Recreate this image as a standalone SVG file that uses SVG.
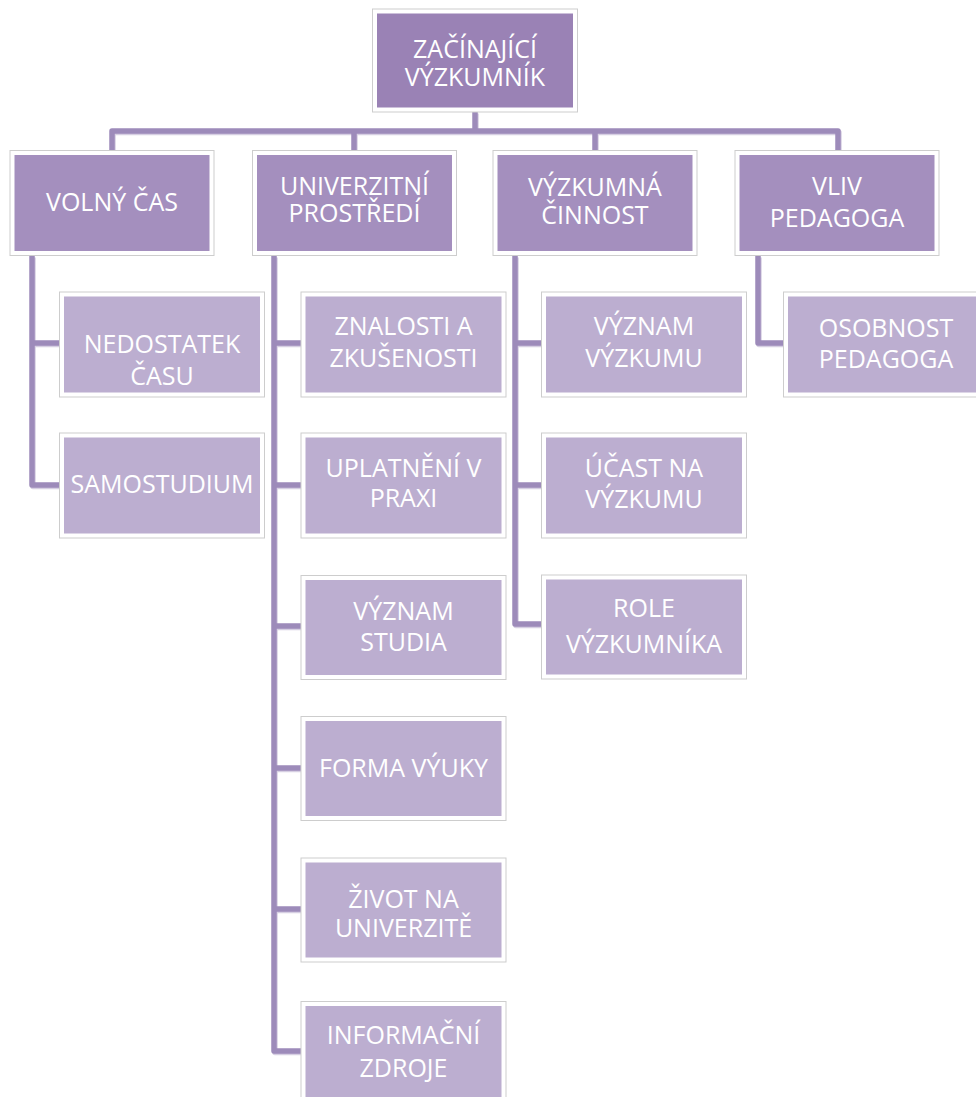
<svg xmlns="http://www.w3.org/2000/svg" width="976" height="1097" viewBox="0 0 976 1097">
<style>
.frame{fill:#ffffff;stroke:#cdcdcd;stroke-width:1}
.root{fill:#9a82b5}
.l2{fill:#a48fbe}
.ch{fill:#bcaed0}
.t{font-family:"Open Sans","Noto Sans","Liberation Sans",sans-serif;font-size:25px;fill:#ffffff;text-anchor:middle}
.con{fill:none;stroke:#9d8bba;stroke-width:5.5;stroke-linejoin:round;stroke-linecap:butt}
.conS{fill:none;stroke:#d6cfe2;stroke-width:5.5;stroke-linejoin:round}
</style>
<rect width="976" height="1097" fill="#ffffff"/>
<g id="connectors">
  <g transform="translate(1,1.5)">
    <path class="conS" d="M475,112 V131"/>
    <path class="conS" d="M112,150 V131 H838 V150"/>
    <path class="conS" d="M354,131 V150 M595,131 V150"/>
    <path class="conS" d="M32,256 V485 H59 M32,343 H59"/>
    <path class="conS" d="M274,256 V1051 H301 M274,343 H301 M274,485 H301 M274,626 H301 M274,768 H301 M274,909 H301"/>
    <path class="conS" d="M515,256 V624 H541 M515,343 H541 M515,485 H541"/>
    <path class="conS" d="M758,256 V343 H783"/>
  </g>
  <path class="con" d="M475,112 V131"/>
  <path class="con" d="M112,150 V131 H838 V150"/>
  <path class="con" d="M354,131 V150 M595,131 V150"/>
  <path class="con" d="M32,256 V485 H59 M32,343 H59"/>
  <path class="con" d="M274,256 V1051 H301 M274,343 H301 M274,485 H301 M274,626 H301 M274,768 H301 M274,909 H301"/>
  <path class="con" d="M515,256 V624 H541 M515,343 H541 M515,485 H541"/>
  <path class="con" d="M758,256 V343 H783"/>
</g>

<g id="n-root">
  <rect class="frame" x="372.5" y="9" width="205" height="103"/>
  <rect class="root" x="377" y="13.5" width="196" height="94"/>
  <text class="t" x="475" y="58">ZAČÍNAJÍCÍ</text>
  <text class="t" x="475" y="86">VÝZKUMNÍK</text>
</g>

<g id="n-volny-cas">
  <rect class="frame" x="10" y="150.5" width="204" height="105"/>
  <rect class="l2" x="14.5" y="155" width="195" height="96"/>
  <text class="t" x="112" y="211">VOLNÝ ČAS</text>
</g>
<g id="n-univerzitni">
  <rect class="frame" x="252.5" y="150.5" width="204" height="105"/>
  <rect class="l2" x="257" y="155" width="195" height="96"/>
  <text class="t" x="354.5" y="194.5">UNIVERZITNÍ</text>
  <text class="t" x="354.5" y="222">PROSTŘEDÍ</text>
</g>
<g id="n-vyzkumna">
  <rect class="frame" x="493" y="150.5" width="204" height="105"/>
  <rect class="l2" x="497.5" y="155" width="195" height="96"/>
  <text class="t" x="595" y="196">VÝZKUMNÁ</text>
  <text class="t" x="595" y="224">ČINNOST</text>
</g>
<g id="n-vliv">
  <rect class="frame" x="735" y="150.5" width="204" height="105"/>
  <rect class="l2" x="739.5" y="155" width="195" height="96"/>
  <text class="t" x="837" y="195">VLIV</text>
  <text class="t" x="837" y="227">PEDAGOGA</text>
</g>

<g id="n-nedostatek">
  <rect class="frame" x="59.5" y="292" width="205" height="105"/>
  <rect class="ch" x="64" y="296.5" width="196" height="96"/>
  <text class="t" x="162" y="353">NEDOSTATEK</text>
  <text class="t" x="162" y="385">ČASU</text>
</g>
<g id="n-samostudium">
  <rect class="frame" x="59.5" y="433" width="205" height="105"/>
  <rect class="ch" x="64" y="437.5" width="196" height="96"/>
  <text class="t" x="162" y="493">SAMOSTUDIUM</text>
</g>

<g id="n-znalosti">
  <rect class="frame" x="301" y="292" width="205" height="105"/>
  <rect class="ch" x="305.5" y="296.5" width="196" height="96"/>
  <text class="t" x="403.5" y="335">ZNALOSTI A</text>
  <text class="t" x="403.5" y="366.5">ZKUŠENOSTI</text>
</g>
<g id="n-uplatneni">
  <rect class="frame" x="301" y="433" width="205" height="105"/>
  <rect class="ch" x="305.5" y="437.5" width="196" height="96"/>
  <text class="t" x="403.5" y="476.5">UPLATNĚNÍ V</text>
  <text class="t" x="403.5" y="507">PRAXI</text>
</g>
<g id="n-vyznam-studia">
  <rect class="frame" x="301" y="575.5" width="205" height="104"/>
  <rect class="ch" x="305.5" y="580" width="196" height="95"/>
  <text class="t" x="403.5" y="620">VÝZNAM</text>
  <text class="t" x="403.5" y="651">STUDIA</text>
</g>
<g id="n-forma">
  <rect class="frame" x="301" y="716.5" width="205" height="104"/>
  <rect class="ch" x="305.5" y="721" width="196" height="95"/>
  <text class="t" x="403.5" y="777">FORMA VÝUKY</text>
</g>
<g id="n-zivot">
  <rect class="frame" x="301" y="858" width="205" height="104"/>
  <rect class="ch" x="305.5" y="862.5" width="196" height="95"/>
  <text class="t" x="403.5" y="908">ŽIVOT NA</text>
  <text class="t" x="403.5" y="937">UNIVERZITĚ</text>
</g>
<g id="n-informacni">
  <rect class="frame" x="301" y="1001.5" width="205" height="105"/>
  <rect class="ch" x="305.5" y="1006" width="196" height="96"/>
  <text class="t" x="403.5" y="1043.5">INFORMAČNÍ</text>
  <text class="t" x="403.5" y="1076.5">ZDROJE</text>
</g>

<g id="n-vyznam-vyzkumu">
  <rect class="frame" x="541.5" y="292" width="205" height="105"/>
  <rect class="ch" x="546" y="296.5" width="196" height="96"/>
  <text class="t" x="644" y="335">VÝZNAM</text>
  <text class="t" x="644" y="366.5">VÝZKUMU</text>
</g>
<g id="n-ucast">
  <rect class="frame" x="541.5" y="433" width="205" height="105"/>
  <rect class="ch" x="546" y="437.5" width="196" height="96"/>
  <text class="t" x="644" y="477">ÚČAST NA</text>
  <text class="t" x="644" y="508">VÝZKUMU</text>
</g>
<g id="n-role">
  <rect class="frame" x="541.5" y="575" width="205" height="104"/>
  <rect class="ch" x="546" y="579.5" width="196" height="95"/>
  <text class="t" x="644" y="617">ROLE</text>
  <text class="t" x="644" y="653">VÝZKUMNÍKA</text>
</g>

<g id="n-osobnost">
  <rect class="frame" x="783.5" y="292" width="205" height="105"/>
  <rect class="ch" x="788" y="296.5" width="196" height="96"/>
  <text class="t" x="886" y="336.5">OSOBNOST</text>
  <text class="t" x="886" y="368">PEDAGOGA</text>
</g>
</svg>
